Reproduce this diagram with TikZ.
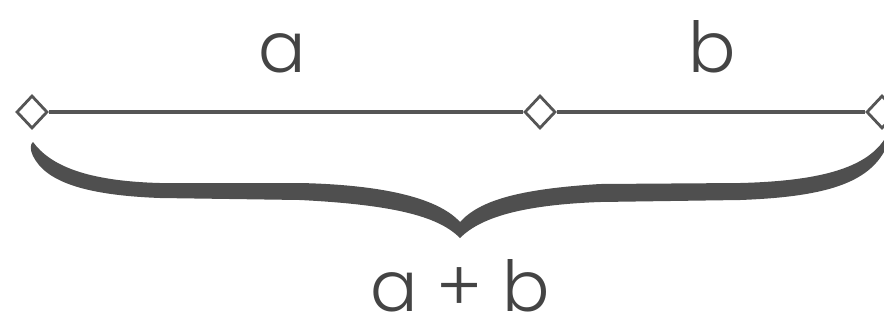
\documentclass[tikz,border=0pt]{standalone}
\usepackage{fontspec}
\setmainfont{Poppins}[UprightFont=* Light]
\usepackage{xcolor}
\usepackage{tikz}
\usetikzlibrary{shapes.geometric, positioning}

\definecolor{segline}{HTML}{555555}
\definecolor{bracefill}{HTML}{4F4F4F}
\definecolor{labeltext}{HTML}{444444}

\begin{document}
\begin{tikzpicture}[x=0.02cm, y=-0.02cm,
    marker/.style={diamond, draw=segline, fill=white, line width=1.6pt, inner sep=0pt, minimum width=0.62cm, minimum height=0.66cm},
    segment/.style={draw=segline, line width=1.9pt},
    label/.style={font=\fontsize{40}{40}\selectfont, text=labeltext, anchor=base, inner sep=0pt, text depth=0pt}]
    \useasboundingbox (0,0) rectangle (884,322);

    % Points on the line
    \node[marker] (start) at (32,112) {};
    \node[marker] (middle) at (540,112) {};
    \node[marker] (end) at (882,112) {};

    \draw[segment] (start) -- (middle);
    \draw[segment] (middle) -- (end);

    % Labels
    \node[label] (lbla) at (282,72) {a};
    \node[label] (lblb) at (712,72) {b};
    \node[label] (lblsum) at (460,311) {a + b};

    % Brace
    \fill[bracefill] (33,142)
        .. controls (50,165) and (85,181) .. (160,183)
        -- (300,183)
        .. controls (390,185) and (440,200) .. (460,222)
        .. controls (480,200) and (520,189) .. (600,184)
        -- (740,183)
        .. controls (820,181) and (865,168) .. (884,140)
        -- (884,152)
        .. controls (865,185) and (820,197) .. (740,200)
        -- (600,202)
        .. controls (520,205) and (480,218) .. (460,238)
        .. controls (440,218) and (400,205) .. (300,200)
        -- (160,198)
        .. controls (80,195) and (45,180) .. (33,156)
        .. controls (30,150) and (30,144) .. cycle;
\end{tikzpicture}
\end{document}
